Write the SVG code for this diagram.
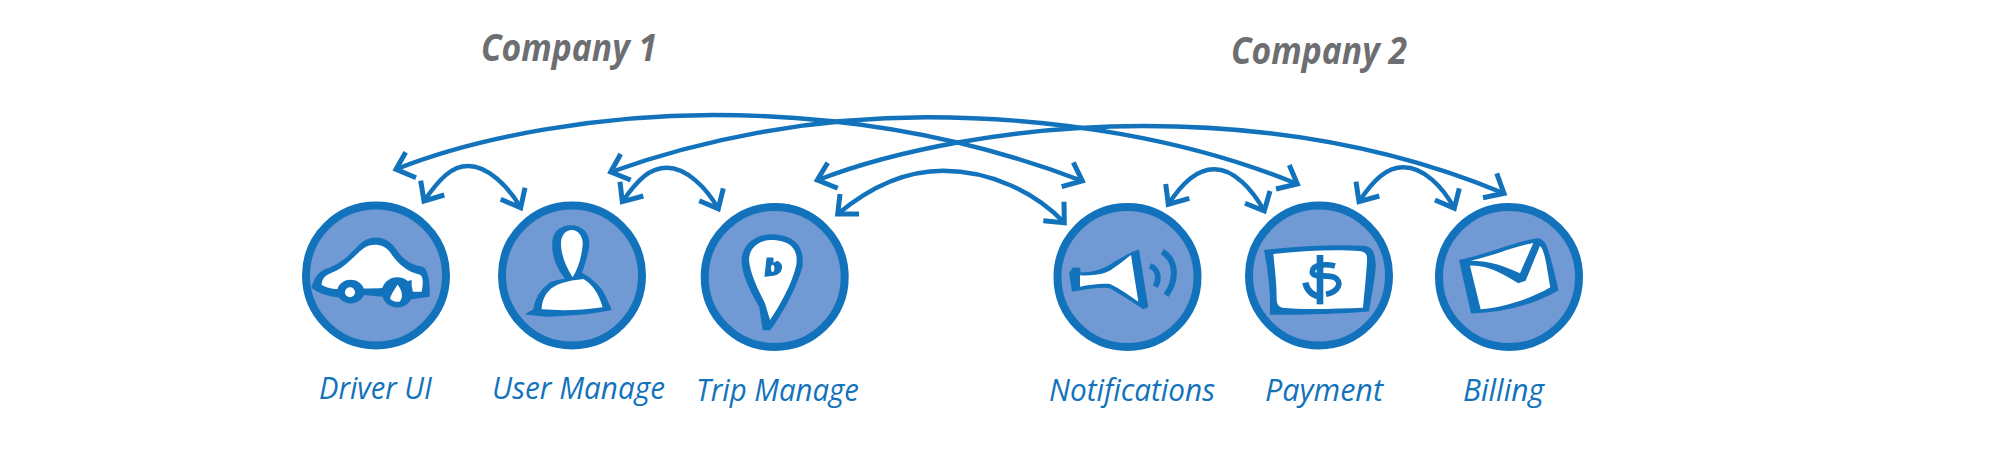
<svg xmlns="http://www.w3.org/2000/svg" width="2000" height="475" viewBox="0 0 2000 475">
<style>
.c{fill:#7199d3;stroke:#1273bc;stroke-width:8}
.b{fill:#1273bc;stroke:#1273bc;stroke-width:5;stroke-linejoin:round}
.w{fill:#fff}
.s{fill:none;stroke:#1273bc;stroke-linecap:butt}
.a{fill:none;stroke:#1273bc;stroke-width:4.4}
.h{fill:none;stroke:#1273bc;stroke-width:5}
.l{font-family:"Open Sans","Noto Sans",sans-serif;font-style:italic;font-size:31px;fill:#1273bc}
.t{font-family:"Open Sans","Noto Sans",sans-serif;font-style:italic;font-weight:700;font-size:37px;fill:#6d6e71}
</style>
<rect width="2000" height="475" fill="#fff"/>
<g id="connectors">
<path class="a" d="M396,169.3C480,136 600,115 713,115C850,115 975,140 1081,180.5"/>
<path class="h" d="M405.7,152.3L396,169.3L416,177.7"/>
<path class="h" d="M1073.3,162.3L1082.3,181L1061.7,186.7"/>
<path class="a" d="M611,172C700,140 810,117.3 926.7,117.3C1060,117.3 1190,140 1296,183.5"/>
<path class="h" d="M620.7,154L610.7,172L630.7,180"/>
<path class="h" d="M1289.3,165L1297.3,184L1276,189"/>
<path class="a" d="M818,180C890,152 1010,126 1143,126C1280,126 1400,150 1503,193"/>
<path class="h" d="M827.7,162.7L817.3,180L837.7,188.3"/>
<path class="h" d="M1496.7,173.3L1504,193.3L1483,197.7"/>
<path class="a" d="M424,201C440,178 452,166 468,166C488,166 508,186 520.7,207.7"/>
<path class="h" d="M420.7,180.7L424,201L444.3,195"/>
<path class="h" d="M525,187.7L520.7,207.7L500.7,199.3"/>
<path class="a" d="M622.3,201.7C638,179 650,167.7 667,167.7C686,167.7 706,187 718.3,208.7"/>
<path class="h" d="M620,181.7L622.3,201.7L643.3,196"/>
<path class="h" d="M723.3,188.3L718.3,208.7L699.3,200.7"/>
<path class="a" d="M837.7,214C870,187 905,170.7 943.3,170.7C990,170.7 1035,192 1064.3,222.7"/>
<path class="h" d="M840,194L837.7,214L859,214"/>
<path class="h" d="M1064,201.7L1064.3,222.7L1043.3,220.7"/>
<path class="a" d="M1168.3,204.3C1183,182 1197,169.3 1214.3,169.3C1234,169.3 1252,189 1264.3,211"/>
<path class="h" d="M1165.7,184L1168.3,204.3L1189.3,198.3"/>
<path class="h" d="M1270,191L1264.3,211L1245,203.3"/>
<path class="a" d="M1359,201.7C1374,179 1387,167.3 1403.3,167.3C1424,167.3 1443,187 1454.3,208.3"/>
<path class="h" d="M1356,181.7L1359,201.7L1379.3,196"/>
<path class="h" d="M1459.3,188.3L1454.3,208.3L1435,200"/>
</g>
<g id="company-1"><text class="t" x="481" y="61" textLength="176" lengthAdjust="spacingAndGlyphs">Company 1</text></g>
<g id="company-2"><text class="t" x="1231" y="64" textLength="176" lengthAdjust="spacingAndGlyphs">Company 2</text></g>
<g id="driver-ui">
<circle class="c" cx="376" cy="275.5" r="70"/>
<g transform="translate(280 190) scale(.3333)">
<path class="b" d="M97,293C105,265 115,245 150,235C190,220 215,190 240,165C265,140 310,135 340,170C360,200 380,225 425,232C440,235 447,260 447,318L395,325L240,312L175,320C150,318 120,310 97,293Z"/>
<path class="w" d="M125,285C125,265 137,254 162,245C197,232 227,192 252,174C275,160 308,160 328,184C348,214 375,244 420,254C430,258 430,280 425,305L395,305L395,270L300,295L175,297C150,297 138,292 125,285Z"/>
<ellipse class="b" cx="212" cy="305" rx="38" ry="33"/>
<ellipse class="b" cx="352" cy="307" rx="44" ry="43"/>
<circle class="w" cx="210" cy="307" r="15"/>
<path class="w" d="M352,284C366,297 372,325 358,335C345,338 332,330 330,325C335,310 345,297 352,284Z"/>
</g>
</g>
<g id="user-manage">
<circle class="c" cx="572" cy="275.5" r="70"/>
<g transform="translate(280 190) scale(.3333)">
<path class="b" d="M860,268C830,235 815,190 820,150C825,120 850,108 872,108C905,108 930,130 925,170C920,205 910,230 903,250C935,265 965,295 975,320L992,358C930,372 860,375 800,378L740,372L762,360C765,335 775,305 810,280C825,272 845,270 860,268Z"/>
<path class="w" d="M878,262C858,230 843,195 843,160C843,135 858,120 875,120C895,120 910,140 908,165C905,200 895,235 878,262Z"/>
<path class="w" d="M785,358C785,335 795,305 825,288C845,278 865,272 910,267C940,285 955,310 968,352C900,362 840,362 785,358Z"/>
</g>
</g>
<g id="trip-manage">
<circle class="c" cx="774.7" cy="277" r="70"/>
<g transform="translate(680 190) scale(.3333)">
<path class="b" d="M270,135C225,138 190,165 187,210C187,250 210,300 240,350L250,418L270,418C300,375 345,300 365,230C370,190 360,135 270,135Z"/>
<path class="w" d="M270,150C235,152 207,175 207,210C210,250 235,300 255,340L270,390C300,345 335,285 349,225C354,190 345,150 270,150Z"/>
<path class="b" d="M262,205L256,258L280,255C305,250 312,225 292,215L278,222L278,205Z"/>
<ellipse class="w" cx="278" cy="235" rx="5" ry="11"/>
</g>
</g>
<g id="notifications">
<circle class="c" cx="1127.5" cy="277" r="70"/>
<g transform="translate(1030 190) scale(.3333)">
<path class="b" d="M120,250L130,235L148,235L150,250C180,250 215,245 250,220C275,205 300,190 325,182L352,350L340,355C310,335 270,310 240,292C210,288 170,295 128,302Z"/>
<path class="w" d="M150,256C185,258 225,255 250,235C270,222 285,208 303,195L325,335C295,315 270,295 240,282C210,280 175,285 150,290Z"/>
<path class="s" stroke-width="17" d="M360,228C385,238 390,265 376,290"/>
<path class="s" stroke-width="18" d="M397,185C440,210 442,270 408,316"/>
</g>
</g>
<g id="payment">
<circle class="c" cx="1319" cy="275.5" r="70"/>
<g transform="translate(1230 190) scale(.3333)">
<path class="b" d="M105,182C200,170 320,165 400,170C425,172 433,185 435,230C430,280 422,320 415,362C320,370 220,372 122,372C125,310 118,250 105,182Z"/>
<path class="w" d="M130,192C220,182 320,177 393,184C410,188 412,195 411,215C408,265 403,310 399,353C320,356 220,360 157,353C142,348 140,340 140,320C140,280 134,235 130,192Z"/>
<path class="s" stroke-width="20" d="M270,195L270,343"/>
<path class="s" stroke-width="17" d="M315,228C285,220 247,225 247,245C247,265 290,252 313,262C338,275 328,305 288,313"/>
<path class="s" stroke-width="19" d="M226,278C232,305 250,318 275,322"/>
</g>
</g>
<g id="billing">
<circle class="c" cx="1509" cy="277" r="70"/>
<g transform="translate(1230 190) scale(.3333)">
<path class="b" d="M690,212C770,195 850,160 920,147C945,147 950,170 965,225L983,300C920,335 830,365 725,368Z"/>
<path class="w" d="M722,212C790,198 850,170 910,159L870,250C830,230 780,212 722,212Z"/>
<path class="w" d="M930,167C945,182 950,230 961,292C900,328 820,352 752,358L720,227C770,224 820,252 865,280L887,272Z"/>
</g>
</g>
<g id="labels">
<text class="l" x="319" y="399" textLength="113" lengthAdjust="spacingAndGlyphs">Driver UI</text>
<text class="l" x="492" y="399" textLength="173" lengthAdjust="spacingAndGlyphs">User Manage</text>
<text class="l" x="696" y="401" textLength="163" lengthAdjust="spacingAndGlyphs">Trip Manage</text>
<text class="l" x="1049" y="401" textLength="166" lengthAdjust="spacingAndGlyphs">Notifications</text>
<text class="l" x="1265" y="401" textLength="118" lengthAdjust="spacingAndGlyphs">Payment</text>
<text class="l" x="1463" y="401" textLength="81" lengthAdjust="spacingAndGlyphs">Billing</text>
</g>
</svg>
